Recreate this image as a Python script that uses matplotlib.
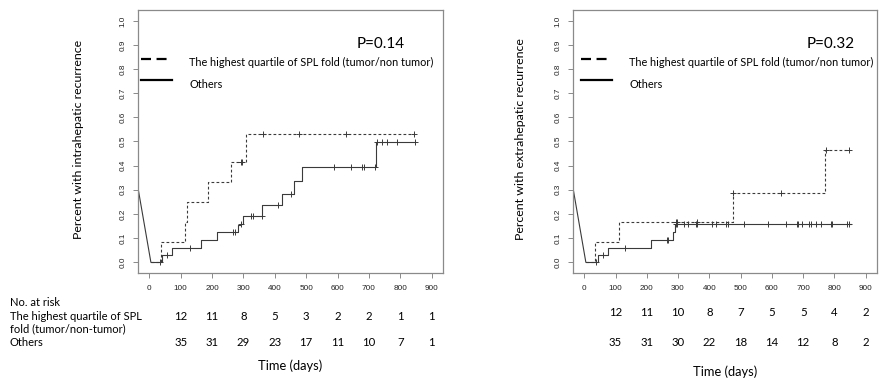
import numpy as np
import matplotlib
matplotlib.use('Agg')
import matplotlib.pyplot as plt
from matplotlib.lines import Line2D
from matplotlib.transforms import blended_transform_factory

W, H = 883, 381

# ---- data (days, cumulative recurrence) ----
artifact_x = [-35, 5]
artifact_y = [0.30, 0.0]

# left panel: intrahepatic
intra_high_t = [5, 38, 113, 120, 188, 260, 309]
intra_high_v = [0.0, 0.083, 0.167, 0.25, 0.333, 0.417, 0.533]
intra_high_end = 844
intra_high_cens = [293, 297, 362, 478, 628, 844]

intra_oth_t = [5, 40, 72, 165, 215, 282, 290, 300, 360, 423, 460, 486, 722]
intra_oth_v = [0.0, 0.029, 0.057, 0.091, 0.124, 0.152, 0.16, 0.19, 0.237, 0.284, 0.338, 0.395, 0.496]
intra_oth_end = 847
intra_oth_cens = [35, 58, 131, 266, 274, 293, 324, 332, 358, 409, 452, 588, 643, 677, 685,
                  720, 726, 741, 756, 790, 847]

# right panel: extrahepatic
extra_high_t = [5, 35, 112, 474, 770]
extra_high_v = [0.0, 0.083, 0.167, 0.287, 0.465]
extra_high_end = 847
extra_high_cens = [293, 297, 362, 474, 628, 773, 847]

extra_oth_t = [5, 43, 75, 213, 283, 290]
extra_oth_v = [0.0, 0.029, 0.059, 0.091, 0.124, 0.157]
extra_oth_end = 852
extra_oth_cens = [37, 59, 130, 263, 269, 293, 296, 319, 333, 357, 359, 408, 421, 453, 461,
                  512, 588, 644, 679, 685, 696, 719, 724, 740, 756, 788, 791, 840, 846]

risk_days = [100, 200, 300, 400, 500, 600, 700, 800, 900]
intra_risk_high = [12, 11, 8, 5, 3, 2, 2, 1, 1]
intra_risk_oth = [35, 31, 29, 23, 17, 11, 10, 7, 1]
extra_risk_high = [12, 11, 10, 8, 7, 5, 5, 4, 2]
extra_risk_oth = [35, 31, 30, 22, 18, 14, 12, 8, 2]

xticks = [0, 100, 200, 300, 400, 500, 600, 700, 800, 900]
yticks = [0.0, 0.1, 0.2, 0.3, 0.4, 0.5, 0.6, 0.7, 0.8, 0.9, 1.0]

legend_high = 'The highest quartile of SPL fold (tumor/non tumor)'
legend_oth = 'Others'

TXT = 'Lato'
TICKF = 'Liberation Sans'
CURVE = '#3a3a3a'
FRAME = '#8a8a8a'


def fx(x):
    return x / W


def fy(y):
    return 1 - y / H


def km_curve(ax, t, v, end, cens, ls):
    xs = list(t) + [end]
    ys = list(v) + [v[-1]]
    ax.plot(xs, ys, drawstyle='steps-post', color=CURVE, lw=0.8, ls=ls)
    idx = np.searchsorted(t, cens, side='right') - 1
    cy = np.array(v)[idx]
    ax.plot(cens, cy, ls='none', marker='+', ms=5, mew=0.7, color=CURVE)


def panel(ax, high, oth, pval, risk_high, risk_oth, ylabel, ylab_x, row1_y, time_y, leg_x0):
    ax.set_xlim(-36, 936)
    ax.set_ylim(-0.045, 1.045)
    for s in ax.spines.values():
        s.set_color(FRAME)
        s.set_linewidth(0.9)
    ax.set_xticks(xticks)
    ax.set_yticks(yticks)
    ax.set_yticklabels(['%.1f' % y for y in yticks], rotation=90, va='center')
    ax.tick_params(length=3.5, width=0.7, color=FRAME, pad=5, labelsize=5.9, labelcolor='#222222')
    for lab in ax.get_xticklabels() + ax.get_yticklabels():
        lab.set_fontfamily(TICKF)

    ax.plot(artifact_x, artifact_y, color=CURVE, lw=0.8)
    km_curve(ax, *high, ls=(0, (2.5, 2)))
    km_curve(ax, *oth, ls='-')

    # legend
    fig.add_artist(Line2D([fx(leg_x0), fx(leg_x0 + 31)], [fy(59), fy(59)], color='black',
                          lw=1.6, ls=(0, (4.5, 2.5))))
    fig.add_artist(Line2D([fx(leg_x0), fx(leg_x0 + 31)], [fy(80), fy(80)], color='black', lw=1.6))
    fig.text(fx(leg_x0 + 48), fy(66.5), legend_high, family=TXT, fontsize=7.85, va='baseline')
    fig.text(fx(leg_x0 + 48), fy(88), legend_oth, family=TXT, fontsize=7.85, va='baseline')

    ax.text(*pval[1:], pval[0], transform=ax.transAxes, family=TXT, fontsize=11,
            ha='center', va='center')

    fig.text(fx(ylab_x), fy(139), ylabel, family=TXT, fontsize=8.9, rotation=90,
             ha='center', va='center')

    tr = blended_transform_factory(ax.transData, fig.transFigure)
    for d, a, b in zip(risk_days, risk_high, risk_oth):
        ax.text(d, fy(row1_y), str(a), transform=tr, family=TXT, fontsize=8.2,
                ha='center', va='center')
        ax.text(d, fy(342), str(b), transform=tr, family=TXT, fontsize=8.2,
                ha='center', va='center')
    ax.text(450, fy(time_y), 'Time (days)', transform=tr, family=TXT, fontsize=9.3,
            ha='center', va='center')


fig = plt.figure(figsize=(W / 100, H / 100), dpi=100)
ax1 = fig.add_axes([fx(138), fy(273), (443 - 138) / W, (273 - 10) / H])
ax2 = fig.add_axes([fx(573), fy(273), (877 - 573) / W, (273 - 10) / H])

panel(ax1,
      (intra_high_t, intra_high_v, intra_high_end, intra_high_cens),
      (intra_oth_t, intra_oth_v, intra_oth_end, intra_oth_cens),
      ('P=0.14', 0.795, 0.872), intra_risk_high, intra_risk_oth,
      'Percent with intrahepatic recurrence', 78, 316, 366, 141)
panel(ax2,
      (extra_high_t, extra_high_v, extra_high_end, extra_high_cens),
      (extra_oth_t, extra_oth_v, extra_oth_end, extra_oth_cens),
      ('P=0.32', 0.849, 0.872), extra_risk_high, extra_risk_oth,
      'Percent with extrahepatic recurrence', 520, 313, 372, 581)

# risk table row labels (left panel only)
fig.text(fx(10), fy(302), 'No. at risk', family=TXT, fontsize=8, va='center')
fig.text(fx(10), fy(316), 'The highest quartile of SPL', family=TXT, fontsize=8, va='center')
fig.text(fx(10), fy(329), 'fold (tumor/non-tumor)', family=TXT, fontsize=8, va='center')
fig.text(fx(10), fy(342), 'Others', family=TXT, fontsize=8, va='center')

fig.savefig('out.png', dpi=100)
